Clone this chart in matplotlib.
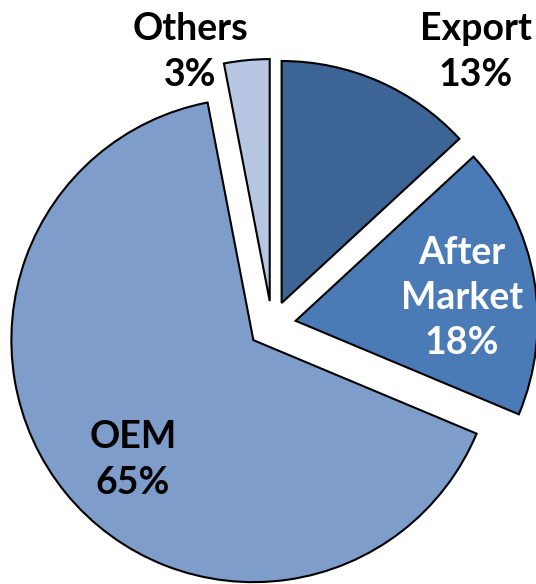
import matplotlib
matplotlib.use("Agg")
import matplotlib.pyplot as plt

labels = ["Export", "After\nMarket", "OEM", "Others"]
shares = [13, 18, 65, 3]
colors = ["#3c6494", "#4a7bb6", "#7f9dcb", "#b7c6e2"]
text_colors = ["black", "white", "black", "black"]
label_pos = [(476, 532), (462, 286), (133, 124), (190, 532)]

fig = plt.figure(figsize=(5.36, 5.84), dpi=100)
ax = fig.add_axes([0, 0, 1, 1])

# explode is in data units here, since the axes are in pixels
ax.pie(shares, colors=colors, startangle=90, counterclock=False,
       explode=[24] * 4, radius=242, center=(272, 259),
       wedgeprops=dict(edgecolor="black", linewidth=1.5))

for lab, v, (x, y), c in zip(labels, shares, label_pos, text_colors):
    ax.text(x, y, "%s\n%d%%" % (lab, v), ha="center", va="center",
            fontsize=27, fontweight="bold", family="Lato", color=c,
            linespacing=1.4)

ax.set_xlim(0, 536)
ax.set_ylim(0, 584)
ax.set_aspect("equal")
ax.axis("off")

fig.savefig("out.png", dpi=100)
